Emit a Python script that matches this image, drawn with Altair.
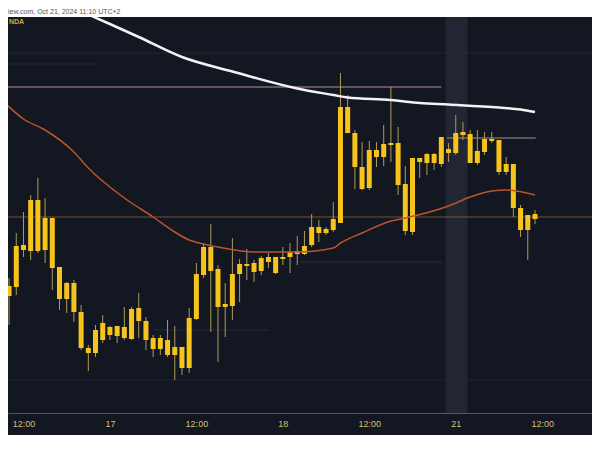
import altair as alt
import pandas as pd

# ---- candle data (hourly candles, price in chart units) ----
idx = list(range(74))
body_hi = [164, 204, 205, 250, 250, 232, 232, 183, 167, 167, 138, 102, 120, 127, 123, 124, 123, 141, 142, 129,
           112, 112, 110, 103, 103, 132, 176, 203, 203, 181, 146, 176, 186, 186, 187, 192, 193, 193, 193, 198,
           199, 204, 223, 223, 221, 231, 343, 343, 317, 283, 300, 300, 306, 307, 307, 266, 292, 292, 296, 296,
           313, 301, 317, 318, 316, 299, 311, 311, 310, 286, 286, 242, 235, 236]
body_lo = [154, 163, 200, 199, 199, 200, 182, 151, 151, 138, 102, 97, 97, 110, 115, 114, 112, 111, 129, 110,
           101, 101, 95, 95, 82, 82, 131, 175, 179, 143, 143, 144, 176, 184, 178, 179, 188, 177, 191, 193,
           196, 196, 205, 217, 217, 220, 227, 317, 283, 261, 262, 293, 293, 305, 265, 219, 218, 288, 287, 287,
           286, 297, 297, 315, 287, 287, 298, 309, 278, 278, 242, 220, 220, 231]
high = [172, 217, 238, 255, 272, 252, 232, 183, 168, 170, 145, 105, 125, 135, 124, 124, 143, 143, 157, 133,
        115, 115, 130, 124, 103, 142, 187, 207, 226, 185, 167, 212, 191, 201, 190, 194, 197, 193, 203, 207,
        214, 219, 236, 230, 223, 248, 377, 355, 320, 308, 309, 308, 325, 363, 323, 284, 292, 292, 297, 297,
        313, 307, 335, 328, 320, 320, 318, 318, 310, 293, 286, 245, 235, 240]
low = [125, 155, 193, 190, 197, 187, 160, 140, 137, 128, 100, 79, 93, 107, 110, 107, 110, 110, 112, 100,
       93, 95, 93, 70, 75, 77, 130, 172, 118, 88, 113, 130, 148, 170, 168, 175, 182, 176, 185, 177,
       185, 195, 203, 208, 215, 218, 227, 317, 261, 260, 260, 283, 284, 288, 255, 215, 215, 272, 275, 280,
       283, 288, 295, 310, 287, 285, 295, 307, 275, 275, 233, 213, 190, 226]

# ---- moving averages ----
white_ma_idx = [8, 11, 14, 18, 24, 31, 40, 45, 47, 53, 57, 61, 68, 71, 73]
white_ma_val = [445, 435.5, 426, 413, 393, 378.5, 361.5, 355, 352.5, 350, 347, 345.5, 342.5, 340.5, 338]
orange_ma_idx = [-1, 2, 5, 9, 11, 16, 20, 23, 25, 27, 29, 34, 40, 45, 46, 49, 53, 55, 61, 64, 67, 69, 73]
orange_ma_val = [350, 331, 320, 298, 282, 252, 233, 218, 210, 206, 203, 198, 198, 202, 207, 217, 229, 232,
                 244, 253, 259, 260, 255]

# ---- horizontal levels ----
level_val = [397, 386, 363, 312, 233, 188, 120, 70]
level_from = [-1, -1, -1, 60.8, -1, 40.4, 20, -1]
level_to = [81, 12, 60, 73.1, 81, 60.2, 36, 81]
level_color = ["#232836", "#232836", "#82697a", "#76696a", "#74502f", "#2a2e3b", "#262a37", "#212533"]
level_width = [1, 1, 1.5, 1.5, 1, 1, 1, 1]

# ---- session band ----
band_from = [60.6]
band_to = [63.6]
band_top = [440]
band_bottom = [37]

# ---- x axis ticks ----
tick_idx = [2, 14, 26, 38, 50, 62, 74]
tick_labels = ["12:00", "17", "12:00", "18", "12:00", "21", "12:00"]

header = "iew.com, Oct 21, 2024 11:10 UTC+2"
symbol = "NDA"

# ---------------------------------------------------------------
candles = pd.DataFrame({"i": idx, "bh": body_hi, "bl": body_lo, "h": high, "l": low})
white_df = pd.DataFrame({"i": white_ma_idx, "v": white_ma_val})
orange_df = pd.DataFrame({"i": orange_ma_idx, "v": orange_ma_val})
levels_df = pd.DataFrame({"y": level_val, "x1": level_from, "x2": level_to, "c": level_color, "w": level_width})
band_df = pd.DataFrame({"x1": band_from, "x2": band_to, "y1": band_top, "y2": band_bottom})
text_df = pd.DataFrame({"t": [symbol]})

expr = ""
for v, lab in zip(tick_idx, tick_labels):
    expr += f"datum.value == {v} ? '{lab}' : "
expr += "''"

xscale = alt.Scale(domain=[0.546, 80.22], nice=False, zero=False)
yscale = alt.Scale(domain=[15, 433], nice=False, zero=False)
xaxis = alt.Axis(values=tick_idx, labelExpr=expr, grid=False, ticks=False, domain=True,
                 domainColor="#5e5838", domainWidth=1, labelColor="#d9bf72", labelFontSize=9,
                 labelFont="Liberation Sans", labelPadding=6, offset=-22, title=None,
                 labelFlush=False, labelOverlap=False)

band = alt.Chart(band_df).mark_rect(color="#222632", clip=True).encode(
    x=alt.X("x1:Q", scale=xscale, axis=xaxis), x2="x2:Q",
    y=alt.Y("y1:Q", scale=yscale, axis=None), y2="y2:Q")

levels = alt.Chart(levels_df).mark_rule(clip=True).encode(
    x=alt.X("x1:Q", scale=xscale, axis=xaxis), x2="x2:Q",
    y=alt.Y("y:Q", scale=yscale, axis=None),
    color=alt.Color("c:N", scale=None),
    strokeWidth=alt.StrokeWidth("w:Q", scale=None))

wicks = alt.Chart(candles).mark_rule(color="#b09a5a", strokeWidth=1, clip=True).encode(
    x=alt.X("i:Q", scale=xscale, axis=xaxis),
    y=alt.Y("h:Q", scale=yscale, axis=None), y2="l:Q")

bodies = alt.Chart(candles).mark_bar(size=5, color="#f7c31d", clip=True).encode(
    x=alt.X("i:Q", scale=xscale, axis=xaxis),
    y=alt.Y("bh:Q", scale=yscale, axis=None), y2="bl:Q")

orange = alt.Chart(orange_df).mark_line(color="#b9552a", strokeWidth=1.5, clip=True,
                                        interpolate="monotone").encode(
    x=alt.X("i:Q", scale=xscale, axis=xaxis),
    y=alt.Y("v:Q", scale=yscale, axis=None))

white = alt.Chart(white_df).mark_line(color="#f2f2f2", strokeWidth=2.5, clip=True,
                                      interpolate="monotone").encode(
    x=alt.X("i:Q", scale=xscale, axis=xaxis),
    y=alt.Y("v:Q", scale=yscale, axis=None))

sym = alt.Chart(text_df).mark_text(align="left", baseline="middle", fontSize=7, fontWeight="bold",
                                   color="#d6a534", font="Liberation Sans").encode(
    x=alt.value(1), y=alt.value(5), text="t:N")

chart = alt.layer(band, levels, wicks, bodies, orange, white, sym).properties(
    width=584, height=418,
    background="white",
    padding={"left": 0, "right": 0, "top": 0, "bottom": 0},
    title=alt.TitleParams(text=header, anchor="start", fontSize=7, font="Liberation Sans",
                          color="#555555", fontWeight="normal", offset=2),
).configure_view(fill="#131722", stroke=None)

chart.save("out.html", embed_options={"renderer": "svg", "actions": False})
